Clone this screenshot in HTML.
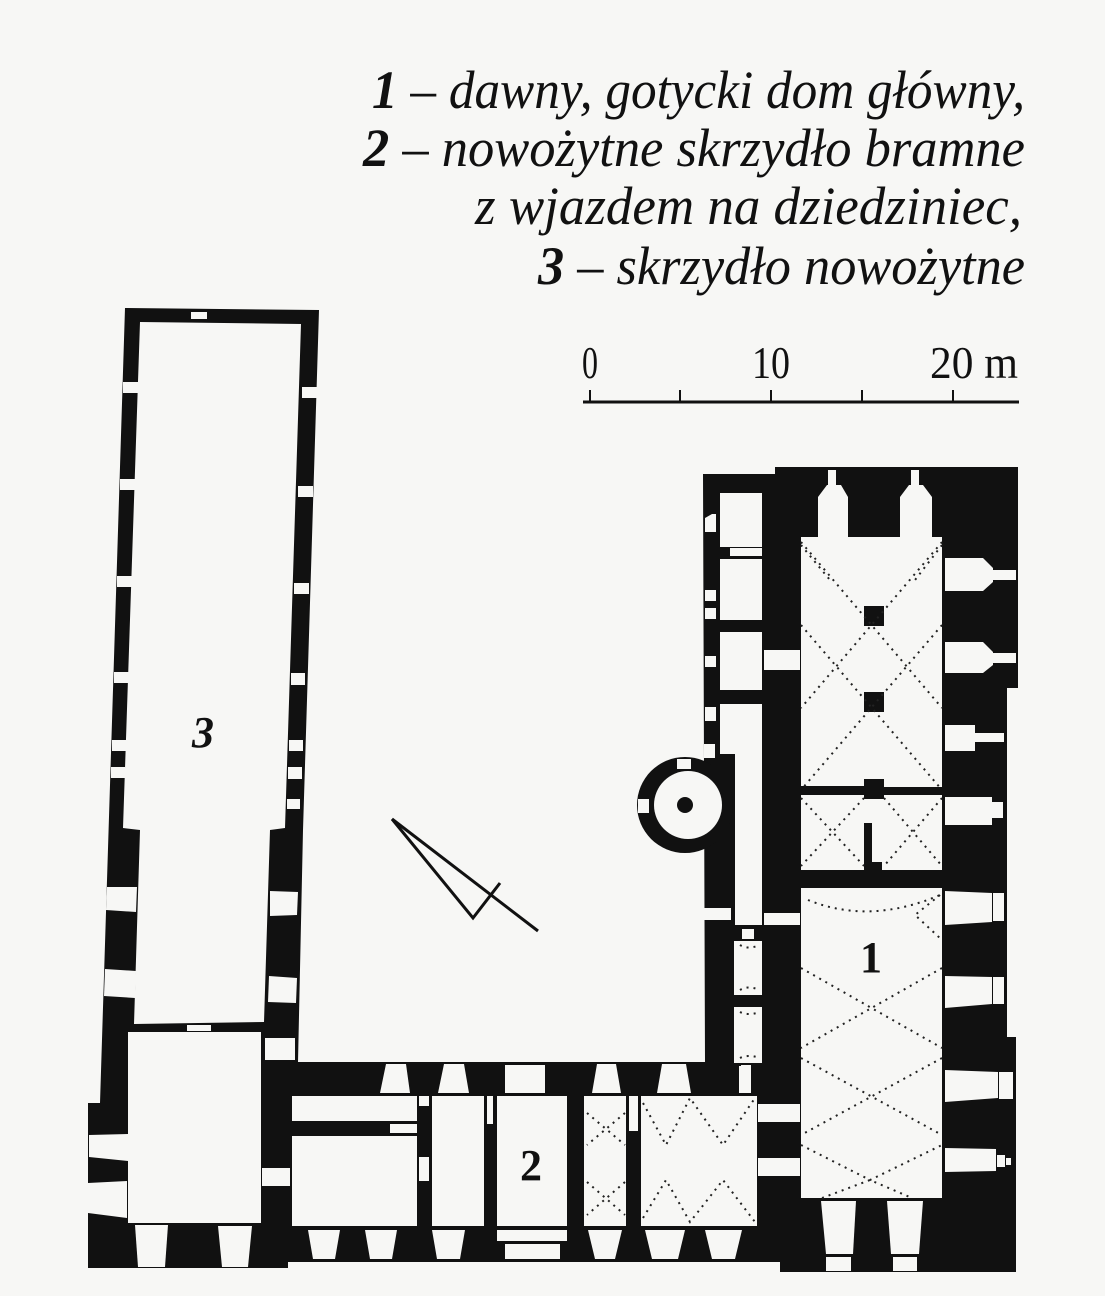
<!DOCTYPE html>
<html><head><meta charset="utf-8"><style>
html,body{margin:0;padding:0;background:#f7f7f5;}
svg{display:block}
</style></head><body>
<svg width="1105" height="1296" viewBox="0 0 1105 1296" xmlns="http://www.w3.org/2000/svg">
<rect width="1105" height="1296" fill="#f7f7f5"/>
<!-- legend -->
<g font-family="Liberation Serif, serif" font-style="italic" font-size="54" fill="#111">
<text x="372" y="108" textLength="653" lengthAdjust="spacingAndGlyphs"><tspan font-weight="bold">1</tspan> – dawny, gotycki dom główny,</text>
<text x="363" y="166" textLength="662" lengthAdjust="spacingAndGlyphs"><tspan font-weight="bold">2</tspan> – nowożytne skrzydło bramne</text>
<text x="475" y="224" textLength="547" lengthAdjust="spacingAndGlyphs">z wjazdem na dziedziniec,</text>
<text x="538" y="284" textLength="487" lengthAdjust="spacingAndGlyphs"><tspan font-weight="bold">3</tspan> – skrzydło nowożytne</text>
</g>
<g font-family="Liberation Serif, serif" font-size="46" fill="#111">
<text x="590" y="378" text-anchor="middle" textLength="16" lengthAdjust="spacingAndGlyphs">0</text>
<text x="771" y="378" text-anchor="middle" textLength="38" lengthAdjust="spacingAndGlyphs">10</text>
<text x="930" y="378" textLength="88" lengthAdjust="spacingAndGlyphs">20 m</text>
</g>
<g stroke="#111" fill="none">
<line x1="583" y1="402" x2="1019" y2="402" stroke-width="3"/>
<line x1="590" y1="390" x2="590" y2="402" stroke-width="2"/>
<line x1="680" y1="390" x2="680" y2="402" stroke-width="2"/>
<line x1="771" y1="390" x2="771" y2="402" stroke-width="2"/>
<line x1="862" y1="390" x2="862" y2="402" stroke-width="2"/>
<line x1="953" y1="390" x2="953" y2="402" stroke-width="2"/>
</g>
<!-- north arrow -->
<g stroke="#111" stroke-width="3" fill="none">
<line x1="392" y1="819" x2="538" y2="931"/>
<polyline points="392,819 473,918 500,883"/>
</g>

<!-- black masses -->
<g fill="#111">
<polygon points="125,308 319,310 303,830 298,1062 705,1062 703,474 775,474 775,467 1018,467 1018,688 1007,688 1007,1037 1016,1037 1016,1272 780,1272 780,1262 288,1262 288,1268 88,1268 88,1103 100,1103"/>
</g>
<g fill="#f7f7f5">
<!-- wing 3 room -->
<polygon points="140,322 301,324 285,828 270,830 264,1022 134,1024 140,830 123,828"/>
<rect x="128" y="1032" width="133" height="191"/>
<!-- wing3 windows -->
<rect x="191" y="312" width="16" height="7"/>
<rect x="123" y="382" width="15" height="11"/><rect x="302" y="387" width="15" height="11"/>
<rect x="120" y="479" width="15" height="11"/><rect x="298" y="486" width="15" height="11"/>
<rect x="117" y="576" width="15" height="11"/><rect x="294" y="583" width="15" height="11"/>
<rect x="114" y="672" width="15" height="11"/><rect x="291" y="673" width="14" height="12"/>
<rect x="112" y="740" width="14" height="11"/><rect x="289" y="740" width="14" height="11"/>
<rect x="111" y="767" width="14" height="11"/><rect x="288" y="767" width="14" height="12"/>
<rect x="287" y="799" width="13" height="10"/>
<polygon points="107,887 137,887 136,912 106,910"/><polygon points="105,969 136,971 135,998 104,996"/>
<polygon points="270,891 298,892 297,915 270,916"/><polygon points="269,976 297,978 296,1003 268,1002"/>
<rect x="187" y="1025" width="24" height="6"/>
<rect x="265" y="1038" width="30" height="22"/>
<!-- bottom-left block windows -->
<polygon points="89,1135 128,1134 128,1161 89,1157"/>
<polygon points="88,1183 127,1181 127,1218 88,1213"/>
<polygon points="135,1225 168,1225 165,1267 138,1267"/>
<polygon points="218,1226 252,1226 248,1267 222,1267"/>
<rect x="262" y="1168" width="28" height="18"/>
<!-- bottom wing rooms -->
<rect x="292" y="1096" width="125" height="25"/>
<rect x="292" y="1136" width="125" height="90"/>
<rect x="390" y="1124" width="27" height="9"/>
<rect x="419" y="1096" width="10" height="10"/>
<rect x="419" y="1157" width="10" height="24"/>
<rect x="432" y="1096" width="52" height="130"/>
<rect x="487" y="1096" width="6" height="28"/>
<rect x="497" y="1096" width="70" height="130"/>
<rect x="584" y="1096" width="42" height="130"/>
<rect x="629" y="1096" width="9" height="35"/>
<rect x="641" y="1096" width="116" height="130"/>
<!-- bottom wing top windows -->
<polygon points="386,1064 406,1064 410,1093 380,1093"/>
<polygon points="444,1064 464,1064 469,1093 438,1093"/>
<rect x="505" y="1065" width="40" height="28"/>
<polygon points="597,1064 616,1064 621,1093 592,1093"/>
<polygon points="662,1064 686,1064 691,1093 657,1093"/>
<rect x="741" y="1065" width="10" height="28"/>
<!-- bottom windows -->
<polygon points="308,1230 340,1230 335,1259 313,1259"/>
<polygon points="365,1230 397,1230 392,1259 370,1259"/>
<polygon points="432,1230 465,1230 460,1259 437,1259"/>
<rect x="497" y="1230" width="70" height="11"/>
<rect x="505" y="1244" width="55" height="15"/>
<polygon points="588,1230 622,1230 615,1259 595,1259"/>
<polygon points="645,1230 685,1230 678,1259 652,1259"/>
<polygon points="705,1230 742,1230 735,1259 712,1259"/>
<rect x="758" y="1104" width="42" height="18"/>
<rect x="758" y="1158" width="42" height="18"/>
<!-- right wing -->
<rect x="720" y="493" width="42" height="54"/>
<rect x="730" y="548" width="32" height="8"/>
<rect x="720" y="559" width="42" height="61"/>
<rect x="720" y="632" width="42" height="58"/>
<rect x="720" y="704" width="42" height="50"/>
<rect x="735" y="740" width="27" height="185"/>
<polygon points="705,518 712,514 716,514 716,532 705,532"/>
<rect x="705" y="590" width="11" height="11"/><rect x="705" y="608" width="11" height="11"/>
<rect x="705" y="656" width="11" height="11"/><rect x="705" y="707" width="11" height="14"/>
<rect x="704" y="744" width="11" height="14"/>
<rect x="764" y="650" width="36" height="20"/>
<rect x="704" y="908" width="27" height="12"/>
<rect x="764" y="913" width="36" height="12"/>
<rect x="742" y="929" width="12" height="10"/>
<rect x="734" y="941" width="28" height="54"/>
<rect x="734" y="1007" width="28" height="56"/>
<rect x="739" y="1066" width="12" height="27"/>
<!-- hall -->
<rect x="801" y="537" width="141" height="250"/>
<rect x="801" y="795" width="141" height="75"/>
<!-- room 1 -->
<rect x="801" y="888" width="141" height="310"/>
<!-- top windows -->
<polygon points="818,537 818,497 827,485 841,485 848,497 848,537"/>
<rect x="828" y="470" width="8" height="15"/>
<polygon points="900,537 900,497 909,485 923,485 932,497 932,537"/>
<rect x="911" y="470" width="8" height="15"/>
<!-- right windows -->
<polygon points="945,558 983,558 993,568 993,582 983,591 945,591"/>
<rect x="993" y="570" width="23" height="10"/>
<polygon points="945,642 983,642 993,652 993,665 983,673 945,673"/>
<rect x="993" y="653" width="23" height="10"/>
<rect x="945" y="725" width="30" height="26"/><rect x="975" y="733" width="29" height="9"/>
<rect x="945" y="797" width="47" height="28"/><rect x="992" y="802" width="11" height="16"/>
<polygon points="945,891 992,893 992,922 945,925"/><rect x="993" y="893" width="11" height="28"/>
<polygon points="945,976 992,977 992,1004 945,1008"/><rect x="993" y="977" width="11" height="27"/>
<polygon points="945,1070 998,1072 998,1098 945,1102"/><rect x="999" y="1072" width="14" height="27"/>
<polygon points="945,1148 996,1149 996,1171 945,1172"/><rect x="997" y="1155" width="8" height="12"/><rect x="1006" y="1158" width="5" height="7"/>
<polygon points="821,1201 856,1201 853,1254 826,1254"/><rect x="826" y="1257" width="25" height="14"/>
<polygon points="887,1201 923,1201 919,1254 891,1254"/><rect x="893" y="1257" width="24" height="14"/>
</g>
<!-- pillars / partitions in hall -->
<g fill="#111">
<rect x="864" y="606" width="20" height="20"/>
<rect x="864" y="692" width="20" height="20"/>
<rect x="864" y="779" width="20" height="20"/>
<rect x="801" y="786" width="64" height="5"/>
<rect x="864" y="823" width="8" height="47"/>
<rect x="864" y="862" width="18" height="8"/>
</g>
<!-- tower -->
<circle cx="685" cy="805" r="48" fill="#111"/>
<circle cx="688" cy="805" r="34" fill="#f7f7f5"/>
<circle cx="685" cy="805" r="8" fill="#111"/>
<rect x="677" y="759" width="14" height="10" fill="#f7f7f5"/>
<rect x="638" y="799" width="11" height="14" fill="#f7f7f5"/>
<!-- dotted vaults -->
<g stroke="#222" stroke-width="2" stroke-dasharray="2 5" fill="none">
<path d="M801,542 L942,708 M942,542 L801,708"/>
<path d="M801,625 L942,790 M942,625 L801,790"/>
<path d="M801,545 L830,580 M942,545 L915,580"/>
<path d="M801,798 L864,866 M864,798 L801,866 M884,798 L942,866 M942,798 L884,866"/>
<path d="M808,900 Q870,925 940,895 M940,895 L915,915 L942,940"/>
<path d="M801,968 L942,1048 M942,968 L801,1048"/>
<path d="M801,1058 L942,1135 M942,1058 L801,1135"/>
<path d="M801,1145 L870,1180 L942,1145 M822,1198 L870,1180 L912,1198"/>
<path d="M587,1113 L625,1145 M625,1113 L587,1145 M587,1182 L625,1215 M625,1182 L587,1215"/>
<path d="M643,1103 L666,1145 L690,1098 L723,1145 L755,1098"/>
<path d="M643,1218 L666,1180 L690,1222 L723,1180 L755,1222"/>
<path d="M740,945 Q748,950 760,945 M740,990 Q748,985 760,990 M740,1012 Q748,1016 760,1012 M740,1058 Q748,1054 760,1058"/>
</g>
<!-- room labels -->
<g font-family="Liberation Serif, serif" font-weight="bold" fill="#111" font-size="44">
<text x="203" y="747" text-anchor="middle" font-style="italic">3</text>
<text x="531" y="1180" text-anchor="middle">2</text>
<text x="871" y="972" text-anchor="middle">1</text>
</g>
</svg>
</body></html>
